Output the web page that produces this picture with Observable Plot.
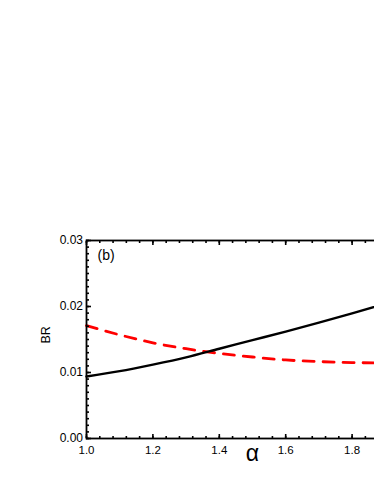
<!DOCTYPE html>
<html>
<head>
<meta charset="utf-8">
<script src="https://cdn.jsdelivr.net/npm/d3@7"></script>
<script src="https://cdn.jsdelivr.net/npm/@observablehq/plot@0.6"></script>
<style>
  html, body { margin: 0; padding: 0; background: #fff; overflow: hidden; width: 374px; height: 484px; }
  #chart { width: 374px; height: 484px; overflow: hidden; }
  #chart svg { display: block; max-width: none !important; font-family: "Liberation Sans", Arial, sans-serif; }
</style>
</head>
<body>
<div id="chart"></div>
<script>
// Data
const alpha = [1.0, 1.1, 1.2, 1.3, 1.4, 1.5, 1.6, 1.7, 1.8, 1.9, 2.0];
const brSolid = [0.0094, 0.0102, 0.0112, 0.0123, 0.0136, 0.0149, 0.0162, 0.01756, 0.01896, 0.0204, 0.0219];
const brDashed = [0.0171, 0.0157, 0.0145, 0.0136, 0.0129, 0.01235, 0.0119, 0.01165, 0.0115, 0.01145, 0.0114];
const xMajor = [1.0, 1.2, 1.4, 1.6, 1.8, 2.0];
const xLabels = [1.0, 1.2, 1.4, 1.6, 1.8];
const xMinor = d3.range(1.0, 2.0001, 0.04).map(v => +v.toFixed(2));
const yMajor = [0.00, 0.01, 0.02, 0.03];
const yMinor = d3.range(0, 0.03001, 0.001).map(v => +v.toFixed(3));
const panelLabel = "(b)";
const xLabel = "α";
const yLabel = "BR";

const solid = alpha.map((a, i) => ({a, v: brSolid[i]}));
const dashed = alpha.map((a, i) => ({a, v: brDashed[i]}));

const tickOpts = {text: null, label: null, strokeWidth: 1.6};

const plot = Plot.plot({
  width: 440,
  height: 484,
  marginLeft: 86,
  marginRight: 22,
  marginTop: 240,
  marginBottom: 46,
  style: {fontFamily: "Liberation Sans, Arial, sans-serif", color: "#000", background: "#fff", maxWidth: "none"},
  x: {domain: [1, 2]},
  y: {domain: [0, 0.03]},
  marks: [
    Plot.line(dashed, {x: "a", y: "v", curve: "monotone-x", stroke: "#ff0000", strokeWidth: 2.8, strokeDasharray: "11,9"}),
    Plot.line(solid, {x: "a", y: "v", curve: "monotone-x", stroke: "#000", strokeWidth: 2.4}),
    // inward ticks
    Plot.axisX(xMajor, {anchor: "bottom", tickSize: 4, dy: -4, ...tickOpts}),
    Plot.axisX(xMinor, {anchor: "bottom", tickSize: 2, dy: -2, ...tickOpts}),
    Plot.axisX(xMajor, {anchor: "top", tickSize: 4, dy: 4, ...tickOpts}),
    Plot.axisX(xMinor, {anchor: "top", tickSize: 2, dy: 2, ...tickOpts}),
    Plot.axisY(yMajor, {anchor: "left", tickSize: 5, dx: 5, ...tickOpts}),
    Plot.axisY(yMinor, {anchor: "left", tickSize: 3, dx: 3, ...tickOpts}),
    Plot.axisY(yMajor, {anchor: "right", tickSize: 5, dx: -5, ...tickOpts}),
    Plot.axisY(yMinor, {anchor: "right", tickSize: 3, dx: -3, ...tickOpts}),
    // tick labels
    Plot.axisX(xLabels, {anchor: "bottom", tickSize: 0, tickPadding: 7, tickFormat: d3.format(".1f"), fontSize: 11.5, label: null}),
    Plot.axisY(yMajor, {anchor: "left", tickSize: 0, tickPadding: 3.5, tickFormat: d3.format(".2f"), fontSize: 12, label: null}),
    Plot.frame({stroke: "#000", strokeWidth: 1.8}),
    Plot.text([panelLabel], {frameAnchor: "top-left", dx: 11, dy: 10, fontSize: 14}),
    Plot.text([xLabel], {frameAnchor: "bottom", dy: 22, fontSize: 23}),
    Plot.text([yLabel], {frameAnchor: "left", dx: -41, dy: 4, rotate: -90, fontSize: 12.5})
  ]
});
document.getElementById("chart").append(plot);
</script>
</body>
</html>
